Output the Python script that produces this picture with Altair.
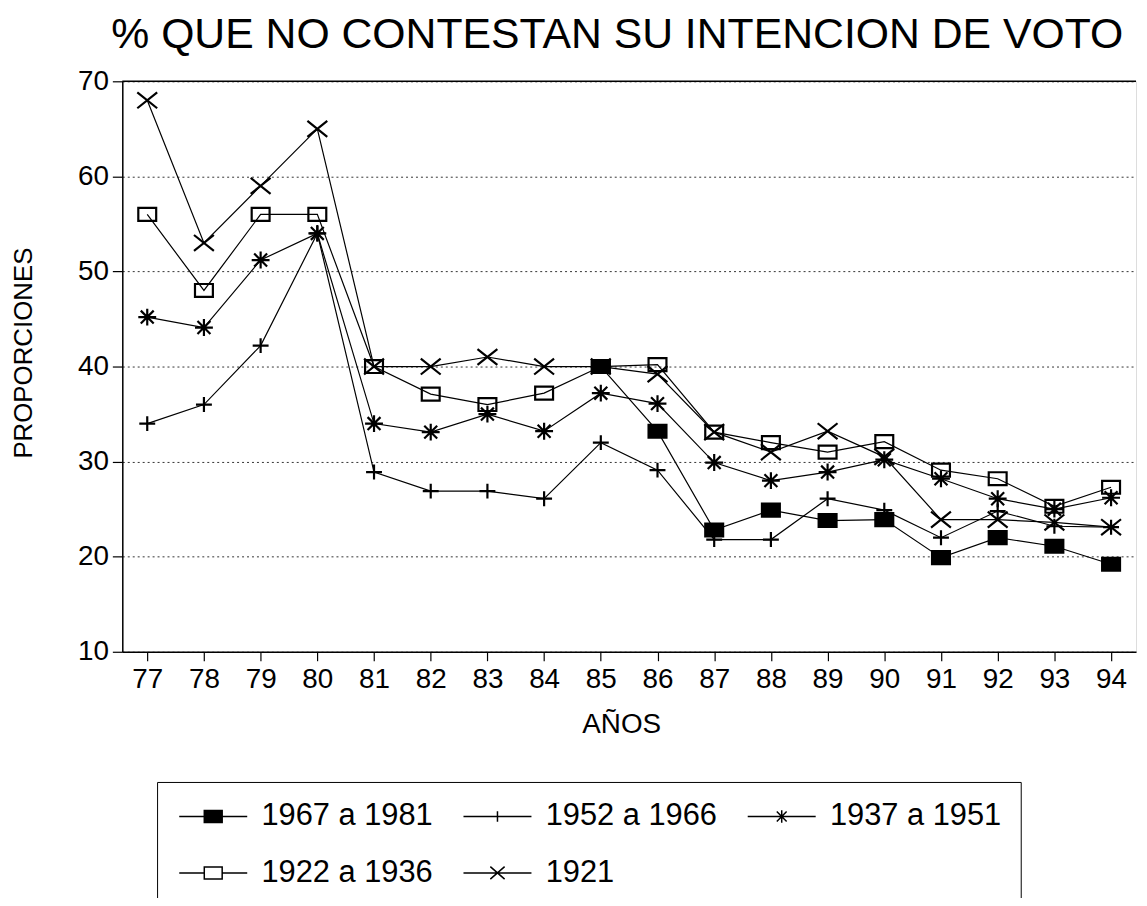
import altair as alt
import pandas as pd

# ---- data ----
anios = list(range(77, 95))
series = ["1967 a 1981", "1952 a 1966", "1937 a 1951", "1922 a 1936", "1921"]

v1967 = [None] * 8 + [40.0, 33.2, 22.8, 24.9, 23.8, 23.9, 19.9, 22.0, 21.1, 19.2]
v1952 = [34.0, 36.0, 42.2, 54.0, 28.9, 26.9, 26.9, 26.1, 32.0, 29.1, 21.8, 21.8, 26.1, 24.9, 22.0, 24.8, 23.2, 23.1]
v1937 = [45.2, 44.1, 51.2, 54.0, 34.0, 33.1, 35.0, 33.2, 37.2, 36.1, 29.9, 28.0, 28.9, 30.2, 28.2, 26.1, 25.0, 26.2]
v1922 = [56.0, 48.0, 56.0, 56.0, 40.0, 37.1, 36.0, 37.2, 40.0, 40.2, 33.1, 32.0, 31.0, 32.1, 29.1, 28.2, 25.3, 27.3]
v1921 = [68.0, 53.0, 59.0, 65.0, 40.0, 40.0, 41.0, 40.0, 40.0, 39.2, 33.1, 31.0, 33.2, 30.5, 23.9, 23.9, 23.6, 23.1]

y_ticks = [10, 20, 30, 40, 50, 60, 70]
top_value = [70]

rows = []
for name, vals in zip(series, [v1967, v1952, v1937, v1922, v1921]):
    for a, v in zip(anios, vals):
        if v is not None:
            rows.append({"anio": a, "valor": v, "serie": name})
df = pd.DataFrame(rows)

FONT = "Liberation Sans"

# marker shapes (plot)
marker_paths = [
    "M-0.9,-0.65H0.9V0.65H-0.9Z",
    "M-0.8,0H0.8M0,-0.75V0.75",
    "M-0.9,0H0.9M0,-0.85V0.85M-0.65,-0.65L0.65,0.65M-0.65,0.65L0.65,-0.65",
    "M-0.9,-0.65H0.9V0.65H-0.9Z",
    "M-1,-0.8L1,0.8M-1,0.8L1,-0.8",
]
marker_fills = ["black", "transparent", "transparent", "transparent", "transparent"]

# legend symbols (marker with a line through it)
legend_paths = [
    "M-3.8,0H-1M1,0H3.8M-1,-0.67H1V0.67H-1Z",
    "M-3.8,0H3.8M0,-0.6V0.6",
    "M-3.8,0H3.8M0,-0.7V0.7M-0.55,-0.55L0.55,0.55M-0.55,0.55L0.55,-0.55",
    "M-3.8,0H-1M1,0H3.8M-1,-0.67H1V0.67H-1Z",
    "M-3.8,0H3.8M-0.8,-0.7L0.8,0.7M-0.8,0.7L0.8,-0.7",
]
legend_fills = ["black", "white", "white", "white", "white"]
legend_strokes = ["black"] * 5

x_enc = alt.X(
    "anio:Q",
    scale=alt.Scale(domain=[76.56, 94.44], nice=False, zero=False),
    axis=alt.Axis(
        values=anios, format="d", grid=False, title="AÑOS",
        labelFontSize=28, labelFont=FONT, labelColor="black", labelPadding=5,
        tickSize=9, tickColor="black", tickWidth=1.2,
        domainColor="black", domainWidth=1.5,
        titleFont=FONT, titleFontSize=28, titleFontWeight="normal", titleColor="black",
        titleX=502, titleY=81, titleBaseline="alphabetic", titleAnchor="middle",
        labelFlush=False,
    ),
)
y_enc = alt.Y(
    "valor:Q",
    scale=alt.Scale(domain=[10, 70], nice=False, zero=False),
    axis=alt.Axis(
        values=y_ticks, grid=True, gridDash=[2, 3], gridColor="#333333", gridWidth=1,
        title="PROPORCIONES",
        labelFontSize=28, labelFont=FONT, labelColor="black", labelPadding=4,
        tickSize=10, tickColor="black", tickWidth=1.2,
        domainColor="black", domainWidth=1.5,
        titleFont=FONT, titleFontSize=26, titleFontWeight="normal", titleColor="black",
        titleAngle=-90, titleX=-99, titleY=273, titleAlign="center", titleBaseline="middle",
        labelFlush=False,
    ),
)

base = alt.Chart(df).encode(x=x_enc, y=y_enc)

lines = base.mark_line(color="black", strokeWidth=1.2).encode(detail="serie:N")

points = base.mark_point(
    filled=True, stroke="black", strokeWidth=2.2, size=400, opacity=1
).encode(
    shape=alt.Shape("serie:N", scale=alt.Scale(domain=series, range=marker_paths), legend=None),
    fill=alt.Fill("serie:N", scale=alt.Scale(domain=series, range=marker_fills), legend=None),
)

leg_props = dict(
    orient="none", legendX=35, legendY=705, columns=3, direction="horizontal", title=None,
    labelFont=FONT, labelFontSize=31, labelColor="black", labelLimit=400,
    symbolSize=324, symbolStrokeWidth=1.5, symbolStrokeColor="black", symbolOpacity=1,
    symbolOffset=22, labelOffset=33, columnPadding=27, rowPadding=25,
    padding=19, strokeColor="black", fillColor="white",
)

legend_layer = alt.Chart(df).transform_filter("false").mark_point(
    filled=True, strokeWidth=1.5, size=324, opacity=1
).encode(
    shape=alt.Shape("serie:N", scale=alt.Scale(domain=series, range=legend_paths),
                    sort=series, legend=alt.Legend(**leg_props)),
    fill=alt.Fill("serie:N", scale=alt.Scale(domain=series, range=legend_fills),
                  sort=series, legend=alt.Legend(**leg_props)),
    stroke=alt.Stroke("serie:N", scale=alt.Scale(domain=series, range=legend_strokes),
                      sort=series, legend=alt.Legend(**leg_props)),
)

top_border = alt.Chart(pd.DataFrame({"y": top_value})).mark_rule(
    color="black", strokeWidth=1.5
).encode(y=alt.Y("y:Q", scale=alt.Scale(domain=[10, 70], nice=False, zero=False)))

chart = alt.layer(lines, points, top_border, legend_layer).resolve_scale(
    shape="independent", fill="independent", stroke="independent"
).properties(
    width=1020, height=574,
    padding={"left": 115, "top": 71, "right": 3, "bottom": 245},
    autosize=alt.AutoSizeParams(type="none"),
    title=alt.TitleParams(
        "% QUE NO CONTESTAN SU INTENCION DE VOTO",
        font=FONT, fontSize=43, fontWeight="normal", color="black",
        anchor="middle", frame="group", dx=-12, dy=41, offset=18, baseline="alphabetic",
    ),
).configure_view(stroke=None).configure(background="white")

chart.save("out.html", embed_options={"renderer": "svg", "actions": False})
